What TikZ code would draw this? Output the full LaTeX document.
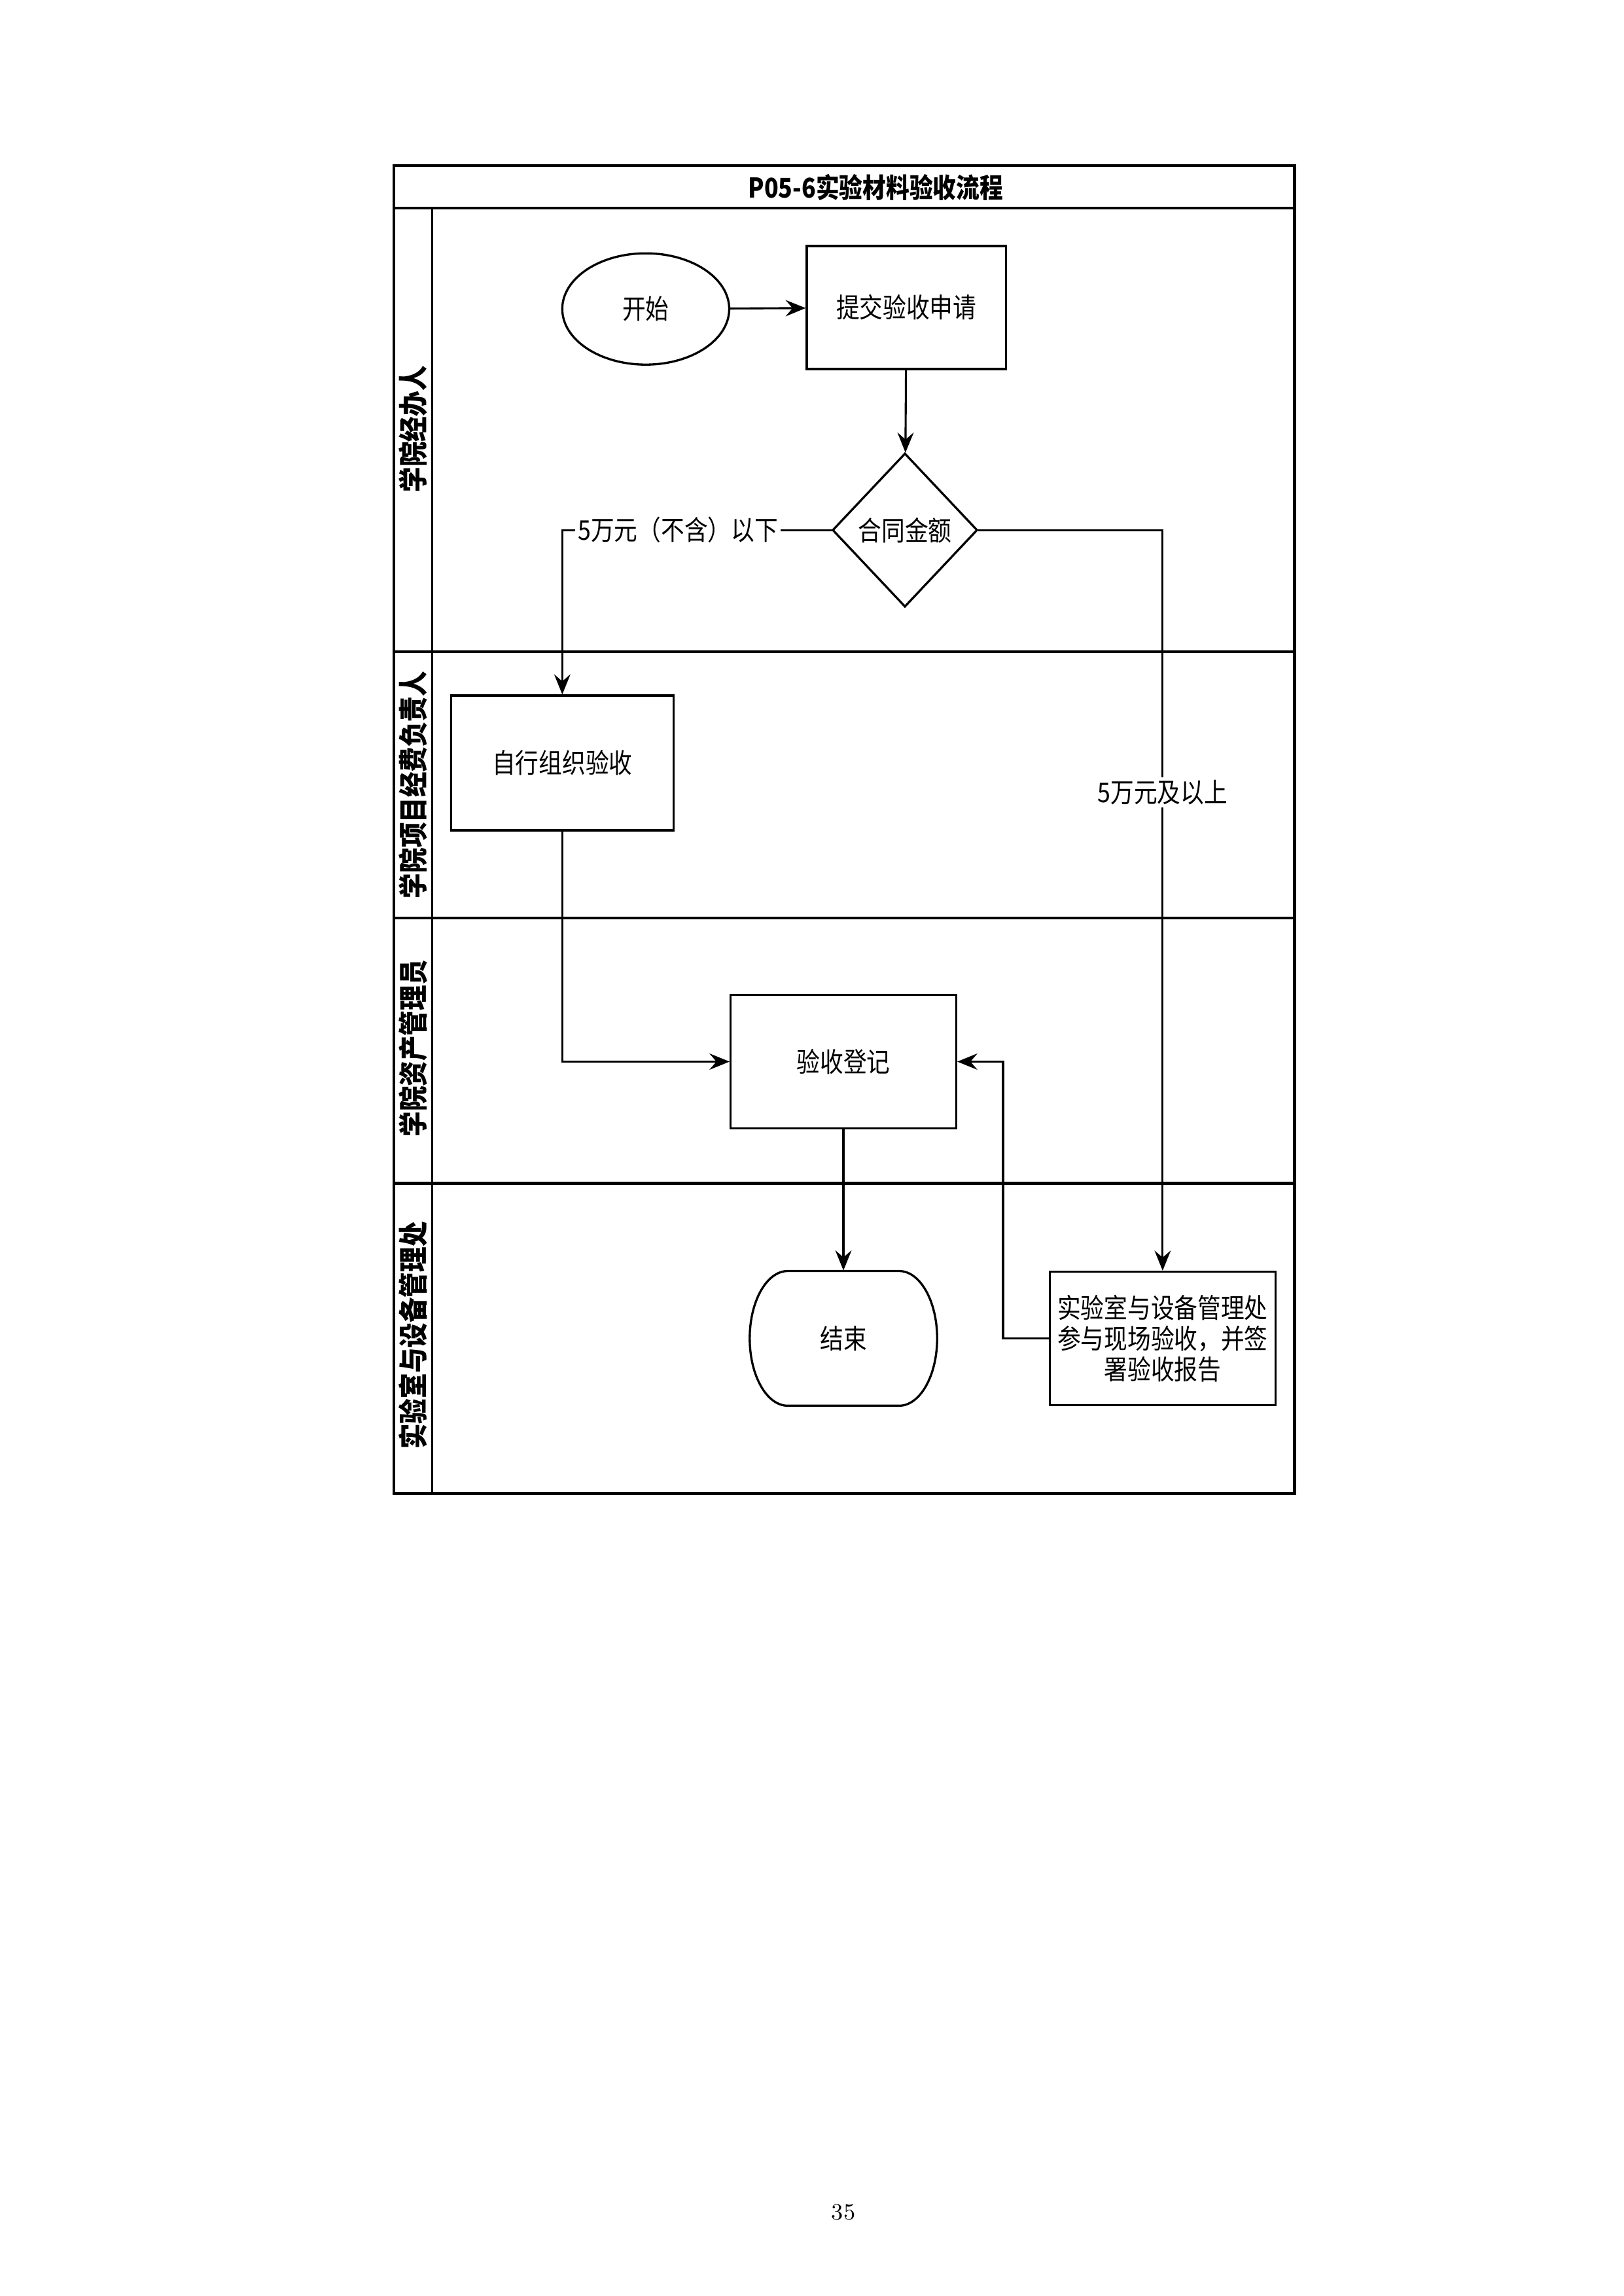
\documentclass[tikz,border=0pt]{standalone}
\usepackage{fontspec}
\newfontfamily\cjk{Noto Sans CJK SC}[FakeStretch=0.86]
\usetikzlibrary{shapes.geometric,arrows.meta}
\begin{document}
\begin{tikzpicture}[x=0.018936cm,y=-0.018936cm,
  txt/.style={font=\cjk\fontsize{10}{11.3}\selectfont,align=center},
  box/.style={txt,draw,line width=0.8pt,rectangle,inner sep=1pt},
  flow/.style={line width=0.75pt,-{Stealth[length=2.6mm,width=2.1mm,inset=0.9mm]}},
  lane/.style={line width=1.1pt},
  lanelabel/.style={rotate=90,font=\cjk\bfseries\fontsize{10.8}{12}\selectfont},
  cond/.style={txt,fill=white,inner xsep=1pt,inner ysep=1pt}]
\useasboundingbox (0,0) rectangle (1109,1568);

% pool frame, title band and lanes
\draw[lane] (269,113) rectangle (884,1020);
\draw[lane] (269,142) -- (884,142);
\foreach \yy in {445,627,808} \draw[lane] (269,\yy) -- (884,\yy);
\draw[line width=0.8pt] (295,142) -- (295,1020);
\node[font=\cjk\bfseries\fontsize{10}{12}\selectfont] (title) at (598,128) {P05-6实验材料验收流程};

\node[lanelabel] (l1) at (282,293) {学院经办人};
\node[lanelabel] (l2) at (282,536) {学院项目经费负责人};
\node[lanelabel] (l3) at (282,716) {学院资产管理员};
\node[lanelabel] (l4) at (282,912) {实验室与设备管理处};

% process nodes
\node[txt,draw,line width=0.8pt,ellipse,minimum width=2.159cm,minimum height=1.439cm,inner sep=0pt] (start) at (441,211) {开始};
\node[box,minimum width=2.575cm,minimum height=1.591cm] (submit) at (619,210) {提交验收申请};
\node[txt,draw,line width=0.8pt,diamond,minimum width=1.875cm,minimum height=1.988cm,inner sep=0pt] (amount) at (618,362) {合同金额};
\node[box,minimum width=2.878cm,minimum height=1.742cm] (self) at (384,521) {自行组织验收};
\node[box,minimum width=2.916cm,minimum height=1.723cm] (reg) at (576,725) {验收登记};
\node[box,minimum width=2.916cm,minimum height=1.723cm] (lab) at (794,914) {实验室与设备管理处\\参与现场验收，并签\\署验收报告};
\node[txt,minimum width=2.424cm,minimum height=1.742cm,inner sep=0pt] (finish) at (576,914) {结束};
\draw[line width=0.8pt] (538,868) -- (614,868)
  arc[start angle=-90,end angle=90,x radius=26,y radius=46] -- (538,960)
  arc[start angle=90,end angle=270,x radius=26,y radius=46] -- cycle;

% connectors
\draw[flow] (start) -- (submit);
\draw[flow] (submit) -- (amount);
\draw[flow] (amount.west) -| node[cond,pos=0.285] {5万元（不含）以下} (self.north);
\draw[flow] (amount.east) -| node[cond,pos=0.677] {5万元及以上} (lab.north);
\draw[flow] (self.south) |- (reg.west);
\draw[flow] (reg.south) -- (finish.north);
\coordinate (back) at (685,725);
\draw[flow] (lab.west) -| (back) -- (reg.east);

% page number
\node[font=\fontsize{8.5}{10}\selectfont] (pageno) at (576,1511) {35};
\end{tikzpicture}
\end{document}
